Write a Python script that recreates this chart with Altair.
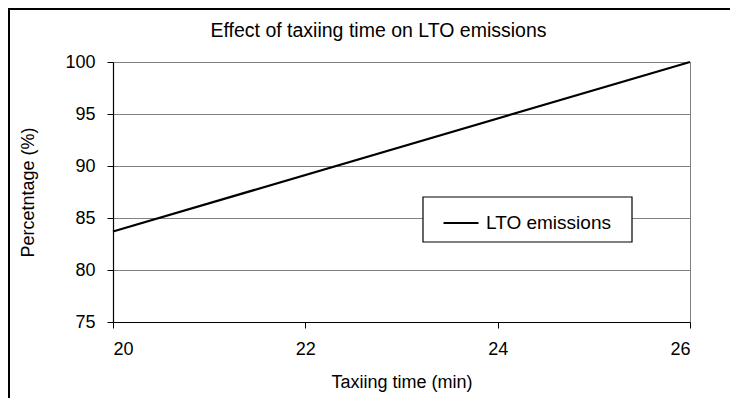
import altair as alt
import pandas as pd

# data
taxi_time = [20, 26]
lto_pct = [83.7, 100]
series = ["LTO emissions", "LTO emissions"]
x_ticks = [20, 22, 24, 26]
y_ticks = [75, 80, 85, 90, 95, 100]

df = pd.DataFrame({"time": taxi_time, "pct": lto_pct, "series": series})

FONT = "Liberation Sans"

line = alt.Chart(df).mark_line(strokeWidth=2.2).encode(
    x=alt.X("time:Q",
            scale=alt.Scale(domain=[20, 26], nice=False, zero=False),
            axis=alt.Axis(values=x_ticks, title="Taxiing time (min)", grid=False,
                          titleY=60, titleBaseline="middle")),
    y=alt.Y("pct:Q",
            scale=alt.Scale(domain=[75, 100], nice=False, zero=False),
            axis=alt.Axis(values=y_ticks, title="Percetntage (%)", grid=True,
                          titleX=-85, titleBaseline="middle")),
    color=alt.Color("series:N",
                    scale=alt.Scale(range=["black"]),
                    legend=alt.Legend(title=None, orient="none", legendX=310, legendY=135,
                                      padding=7, symbolOffset=12,
                                      symbolType="stroke", symbolSize=1225,
                                      symbolStrokeWidth=2.2, labelFontSize=19,
                                      labelFont=FONT, labelColor="black",
                                      labelOffset=6)),
)

# frame of the legend box (white, covers the gridline behind it)
legend_frame = alt.Chart(pd.DataFrame({"a": [0]})).mark_rect(
    fill="white", stroke="black", strokeWidth=1.2
).encode(
    x=alt.value(310), x2=alt.value(519), y=alt.value(135), y2=alt.value(180)
)

# outer chart border
border = alt.Chart(pd.DataFrame({"a": [0]})).mark_rect(
    fillOpacity=0, stroke="black", strokeWidth=2
).encode(
    x=alt.value(-104), x2=alt.value(700), y=alt.value(-53), y2=alt.value(500)
)

chart = alt.layer(line, legend_frame, border).properties(
    width=577,
    height=260,
    padding={"left": 105, "top": 54, "right": 40, "bottom": 76},
    autosize=alt.AutoSizeParams(type="none"),
    title=alt.TitleParams("Effect of taxiing time on LTO emissions", font=FONT,
                          fontSize=19.5, fontWeight="normal", color="black",
                          anchor="middle", dx=-23, offset=8, dy=41),
).configure_view(
    stroke="#808080", strokeWidth=1
).configure_axis(
    labelFont=FONT, labelFontSize=18, labelColor="black",
    titleFont=FONT, titleFontSize=18, titleColor="black", titleFontWeight="normal",
    domainColor="black", domainWidth=1.2, tickColor="black", tickSize=6,
    labelPadding=12, gridColor="#808080", gridWidth=1,
)

chart.save("out.html", embed_options={"renderer": "svg", "actions": False})
